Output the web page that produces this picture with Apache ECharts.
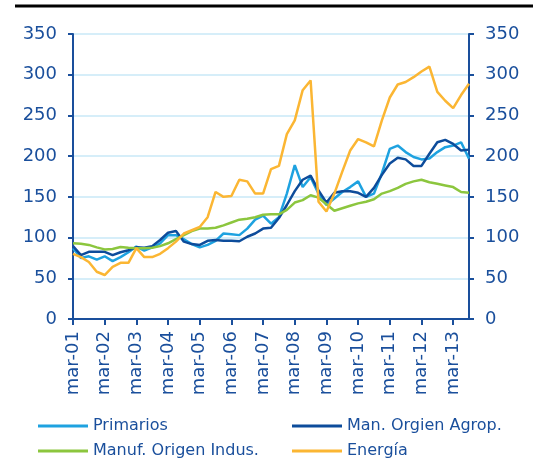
<!DOCTYPE html>
<html>
<head>
<meta charset="utf-8">
<script src="https://cdn.jsdelivr.net/npm/echarts@6/dist/echarts.min.js"></script>
<style>
  html, body { margin: 0; padding: 0; background: #fff; }
  #chart { width: 533px; height: 459px; }
</style>
</head>
<body>
<div id="chart"></div>
<script>
// trimestral, mar-01 .. sep-13
var years = ['01','02','03','04','05','06','07','08','09','10','11','12','13'];
var months = ['mar','jun','sep','dic'];
var categories = [];
for (var y = 0; y < years.length; y++) {
    for (var m = 0; m < months.length; m++) {
        if (y == years.length - 1 && m > 2) break;
        categories.push(months[m] + '-' + years[y]);
    }
}

var yTicks = [0, 50, 100, 150, 200, 250, 300, 350];

var primarios = [87, 75, 77, 73, 77, 71, 76, 82, 89, 84, 88, 93, 103, 103, 98, 92, 88, 91, 96, 105,
    104, 103, 111, 122, 127, 117, 125, 154, 189, 162, 174, 154, 140, 148, 156, 162, 169, 150, 154, 179,
    209, 213, 205, 199, 196, 197, 205, 211, 213, 217, 197];
var manAgrop = [89.5, 78.5, 82.5, 82.5, 82.5, 78.5, 82, 84.5, 88, 87.5, 89.5, 97, 106, 108, 95, 92, 91, 96, 97, 96,
    96, 95.5, 101, 105, 111, 112, 124, 140, 157, 171, 176, 158, 143, 155, 157, 157, 155, 150, 161, 177,
    191, 198, 196, 188, 188, 203, 217, 220, 215, 207, 208];
var manufIndus = [93, 92.5, 91, 88, 85.5, 86, 88.5, 87.5, 87, 87, 87.5, 89.5, 93, 98, 103, 108, 111, 111, 112, 115,
    118.5, 122, 123, 125, 128, 128.5, 128.5, 134, 143, 146, 152, 149, 141, 133, 136, 139, 142, 144, 147, 154,
    157, 161, 166, 169, 171, 168, 166, 164, 162, 156, 155];
var energia = [80, 76, 70, 58, 54, 64, 69, 69, 87, 76, 76, 80, 87, 95, 105, 109, 113, 125, 156, 150,
    151, 171, 169, 154, 154, 184, 188, 227, 244, 281, 293, 144, 132, 154, 181, 207, 221, 217, 212, 244,
    272, 288, 291, 297, 304, 310, 279, 268, 259, 275, 289];

var axisColor = '#1a4f9c';
var fontName = 'DejaVu Sans';

function valueAxis(pos) {
    return {
        type: 'value',
        position: pos,
        min: yTicks[0],
        max: yTicks[yTicks.length - 1],
        interval: 50,
        axisLine: { show: true, lineStyle: { color: axisColor, width: 2 } },
        axisTick: { show: true, length: 5, lineStyle: { color: axisColor, width: 2 } },
        axisLabel: { color: axisColor, fontSize: 18, fontFamily: fontName, margin: 16 },
        splitLine: { show: pos == 'left', lineStyle: { color: '#c9e9f7', width: 1.5 } }
    };
}

function lineSerie(name, data, color) {
    return {
        name: name,
        type: 'line',
        data: data,
        symbol: 'none',
        lineStyle: { color: color, width: 2.5 },
        itemStyle: { color: color }
    };
}

// una leyenda por item, en dos columnas
function legendItem(left, top, name) {
    return {
        left: left,
        top: top,
        data: [name],
        icon: 'rect',
        itemWidth: 50,
        itemHeight: 3,
        textStyle: { color: axisColor, fontSize: 16, fontFamily: fontName }
    };
}

var chart = echarts.init(document.getElementById('chart'));
chart.setOption({
    animation: false,
    grid: { left: 73, right: 64, top: 34, bottom: 140 },
    graphic: [{
        type: 'line',
        shape: { x1: 15, y1: 6, x2: 533, y2: 6 },
        style: { stroke: '#000', lineWidth: 3 }
    }],
    legend: [
        legendItem(33, 413, 'Primarios'),
        legendItem(287, 413, 'Man. Orgien Agrop.'),
        legendItem(33, 438, 'Manuf. Origen Indus.'),
        legendItem(287, 438, 'Energía')
    ],
    xAxis: {
        type: 'category',
        data: categories,
        boundaryGap: false,
        axisLine: { lineStyle: { color: axisColor, width: 2 } },
        axisTick: { interval: 3, length: 6, lineStyle: { color: axisColor, width: 2 } },
        axisLabel: { interval: 3, rotate: 90, color: axisColor, fontSize: 18, fontFamily: fontName, margin: 12 }
    },
    yAxis: [valueAxis('left'), valueAxis('right')],
    series: [
        lineSerie('Primarios', primarios, '#1ea2e0'),
        lineSerie('Man. Orgien Agrop.', manAgrop, '#0d4c9b'),
        lineSerie('Manuf. Origen Indus.', manufIndus, '#8cc63e'),
        lineSerie('Energía', energia, '#fbb633')
    ]
});
</script>
</body>
</html>
